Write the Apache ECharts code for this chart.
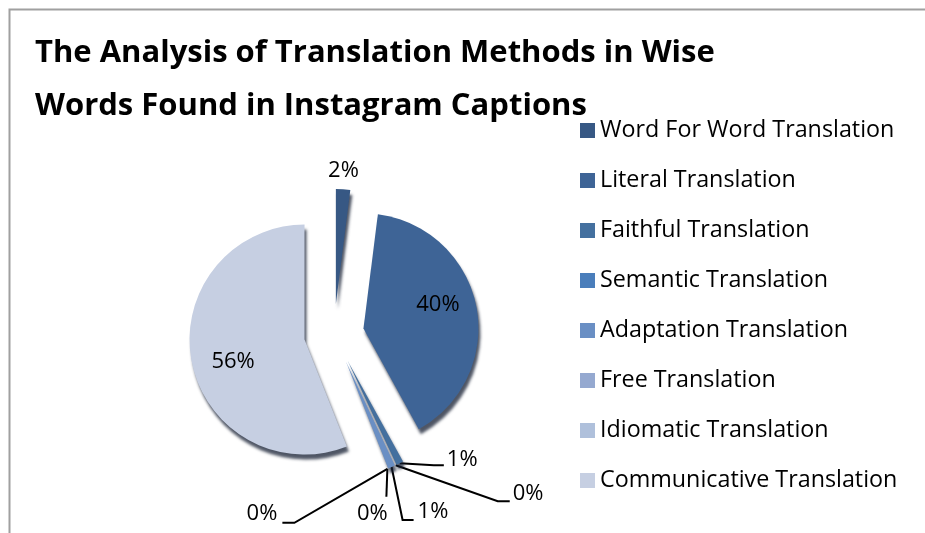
<!DOCTYPE html>
<html>
<head>
<meta charset="utf-8">
<script src="https://cdn.jsdelivr.net/npm/echarts@6/dist/echarts.min.js"></script>
<style>
  html, body { margin: 0; padding: 0; background: #fff; }
  #chart { width: 925px; height: 533px; }
</style>
</head>
<body>
<div id="chart"></div>
<script>
var titleText = 'The Analysis of Translation Methods in Wise\nWords Found in Instagram Captions';
var categories = [
  'Word For Word Translation',
  'Literal Translation',
  'Faithful Translation',
  'Semantic Translation',
  'Adaptation Translation',
  'Free Translation',
  'Idiomatic Translation',
  'Communicative Translation'
];
var values = [2, 40, 1, 0, 1, 0, 0, 56];
var colors = ['#375884', '#3e6496', '#44709f', '#4a7ebb', '#6a8fc4', '#95a9d0', '#afc0db', '#c6cfe2'];

var FONT = '"Open Sans"';

// label placement tweaks (style only): [elbow dx, elbow dy, end dx, end dy, label dx, label dy, align]
var leaderStyle = {
  2: [34, 2, 44, 2, 47, -3, 'left'],
  3: [102, 36, 114, 36, 117, 29, 'left'],
  4: [11, 53, 22, 53, 26, 45, 'left'],
  5: [-1, 28, -1, 28, -15, 45, 'center'],
  6: [-93, 54, -105, 54, -110, 45, 'right']
};
var labelShift = {
  0: [-5, -13, 'center'],
  1: [15, -12, null],
  7: [-12, 11, null]
};

var chart = echarts.init(document.getElementById('chart'));

var data = categories.map(function (c, i) {
  var item = { name: c, value: values[i], selected: true };
  if (i === 1 || i === 7) {
    item.label = { position: 'inside' };
  }
  if (i === 0) {
    item.labelLine = { show: false, length: 6, length2: 0 };
  }
  return item;
});

chart.setOption({
  animation: false,
  color: colors,
  title: {
    text: titleText,
    left: 30,
    top: 22,
    textStyle: { fontFamily: FONT, fontWeight: 'bold', fontSize: 31, lineHeight: 53, color: '#000' }
  },
  legend: {
    orient: 'vertical',
    left: 575,
    top: 114,
    itemWidth: 15,
    itemHeight: 15,
    itemGap: 27,
    icon: 'rect',
    selectedMode: false,
    textStyle: { fontFamily: FONT, fontSize: 23.3, lineHeight: 22, color: '#000' },
    data: categories
  },
  graphic: [{
    type: 'polyline',
    shape: { points: [[9.5, 540], [9.5, 9.5], [930, 9.5]] },
    style: { stroke: '#a0a0a0', lineWidth: 2, fill: null },
    silent: true
  }],
  series: [{
    type: 'pie',
    center: [334, 334],
    radius: 115,
    startAngle: 90,
    clockwise: true,
    selectedMode: 'multiple',
    selectedOffset: 30,
    avoidLabelOverlap: false,
    percentPrecision: 0,
    emphasis: { disabled: true },
    itemStyle: {
      shadowColor: 'rgba(20,30,50,0.75)',
      shadowBlur: 3,
      shadowOffsetX: 2,
      shadowOffsetY: 5
    },
    select: { itemStyle: { shadowColor: 'rgba(20,30,50,0.75)', shadowBlur: 3, shadowOffsetX: 2, shadowOffsetY: 5 } },
    label: {
      show: true,
      formatter: '{d}%',
      fontFamily: FONT,
      fontSize: 22,
      color: '#000'
    },
    labelLine: { show: true, length: 20, length2: 10, lineStyle: { color: '#000', width: 2 } },
    labelLayout: function (params) {
      var s = leaderStyle[params.dataIndex];
      if (s && params.labelLinePoints) {
        var p0 = params.labelLinePoints[0];
        var rc = params.labelRect;
        var tx = p0[0] + s[4];
        var ty = p0[1] + s[5];
        return {
          dx: tx - rc.x,
          dy: ty - (rc.y + rc.height / 2),
          align: s[6],
          labelLinePoints: [
            [p0[0], p0[1]],
            [p0[0] + s[0], p0[1] + s[1]],
            [p0[0] + s[2], p0[1] + s[3]]
          ]
        };
      }
      var t = labelShift[params.dataIndex];
      if (t) {
        var r = { dx: t[0], dy: t[1] };
        if (t[2]) r.align = t[2];
        return r;
      }
    },
    data: data
  }]
});
</script>
</body>
</html>
